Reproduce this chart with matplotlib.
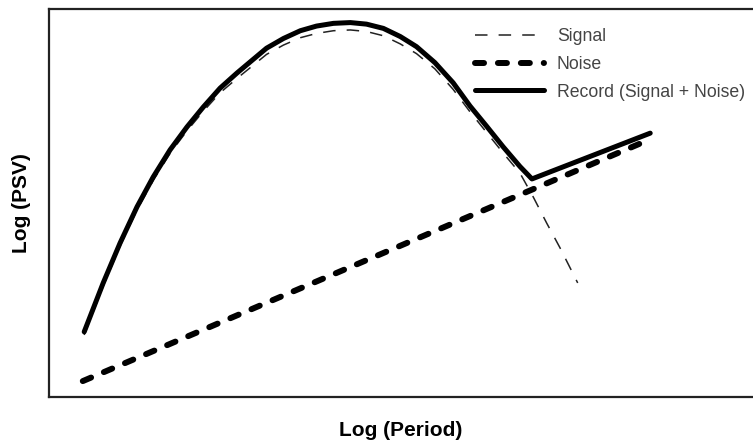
import matplotlib
matplotlib.use("Agg")
import matplotlib.pyplot as plt

plt.rcParams['font.family'] = ['Liberation Sans', 'DejaVu Sans']
plt.rcParams['lines.scale_dashes'] = False

# log period / log PSV in arbitrary units (axes run 0..10 on both)
signal_x = [0.50, 0.77, 1.01, 1.25, 1.48, 1.72, 1.96, 2.19, 2.43, 2.67, 2.86, 3.09,
            3.33, 3.57, 3.80, 4.04, 4.28, 4.51, 4.75, 4.99, 5.22, 5.48, 5.74, 5.98,
            6.22, 6.45, 6.69, 6.88, 7.07, 7.26, 7.51]
signal_y = [1.60, 2.86, 3.89, 4.82, 5.58, 6.28, 6.86, 7.36, 7.84, 8.21, 8.49, 8.83,
            9.07, 9.26, 9.37, 9.44, 9.46, 9.42, 9.31, 9.10, 8.85, 8.46, 7.93, 7.35,
            6.81, 6.29, 5.77, 5.15, 4.48, 3.84, 2.94]

noise_x = [0.48, 8.51]
noise_y = [0.41, 6.62]

record_x = [0.50, 0.77, 1.01, 1.25, 1.48, 1.72, 1.96, 2.19, 2.43, 2.67, 2.86, 3.09,
            3.33, 3.57, 3.80, 4.04, 4.28, 4.51, 4.75, 4.99, 5.22, 5.48, 5.74, 5.98,
            6.22, 6.45, 6.69, 6.86, 8.54]
record_y = [1.68, 2.94, 3.97, 4.90, 5.67, 6.37, 6.96, 7.47, 7.96, 8.35, 8.64, 8.99,
            9.24, 9.44, 9.56, 9.63, 9.65, 9.61, 9.50, 9.29, 9.03, 8.62, 8.10, 7.50,
            6.97, 6.45, 5.94, 5.62, 6.80]

fig = plt.figure(figsize=(7.53, 4.41), dpi=100)
ax = fig.add_axes([49 / 753, 1 - 397 / 441, 704 / 753, 388 / 441])

ax.plot(signal_x, signal_y, color='#222222', lw=1.1, dashes=(9, 8),
        label='Signal', zorder=2)
ax.plot(noise_x, noise_y, color='black', lw=4.3, dashes=(6.5, 10),
        dash_capstyle='round', label='Noise', zorder=3)
ax.plot(record_x, record_y, color='black', lw=3.6, solid_capstyle='round',
        solid_joinstyle='round', label='Record (Signal + Noise)', zorder=4)

ax.set_xlim(0, 10)
ax.set_ylim(0, 10)
ax.set_xticks([])
ax.set_yticks([])
for side in ['left', 'top', 'bottom']:
    ax.spines[side].set_linewidth(1.6)
    ax.spines[side].set_color('#222222')
ax.spines['right'].set_visible(False)

ax.set_xlabel('Log (Period)', fontsize=15, fontweight='bold', labelpad=17)
ax.set_ylabel('Log (PSV)', fontsize=15, fontweight='bold', labelpad=13)

leg = ax.legend(loc='upper left', bbox_to_anchor=(0.595, 0.968), frameon=False,
                fontsize=12.7, handlelength=3.9, handletextpad=0.75,
                labelspacing=0.6, borderaxespad=0)
for t in leg.get_texts():
    t.set_color('#444444')

fig.savefig('out.png', dpi=100)
